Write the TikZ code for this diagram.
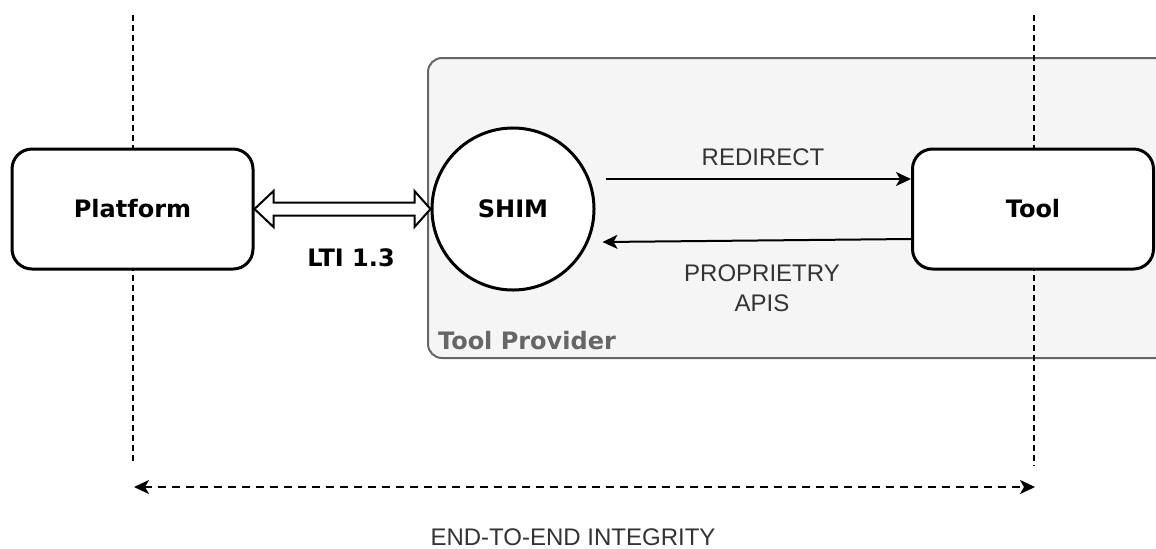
\documentclass[tikz,border=0pt]{standalone}
\usepackage{fontspec}
\setmainfont{Liberation Sans}
\newfontfamily\verd{DejaVu Sans}
\usetikzlibrary{arrows.meta}
\usetikzlibrary{positioning}
\usetikzlibrary{calc}
\definecolor{txtgray}{RGB}{51,51,51}
\definecolor{provgray}{RGB}{102,102,102}
\definecolor{provfill}{RGB}{245,245,245}

\begin{document}
\begin{tikzpicture}[x=0.5pt,y=-0.5pt,
  box/.style={draw,line width=1.5pt,rounded corners=10pt,fill=white,
    minimum width=120.5pt,minimum height=60pt,
    font=\verd\bfseries\fontsize{12}{14}\selectfont},
  shimnode/.style={draw,circle,line width=1.5pt,fill=white,minimum size=81pt,
    inner sep=0pt,font=\verd\bfseries\fontsize{12}{14}\selectfont},
  lbl/.style={text=txtgray,font=\fontsize{12}{15}\selectfont,align=center},
  guide/.style={line width=1.1pt,dash pattern=on 3pt off 2pt,black},
  flow/.style={line width=1pt,-{Stealth[length=7.5pt,width=7pt,inset=2pt]}}]

\useasboundingbox (0,0) rectangle (1156,548);
\clip (0,0) rectangle (1156,548);

% Tool Provider
\draw[provgray,fill=provfill,line width=1pt,rounded corners=7pt]
  (428,58) rectangle (1180,358);
\node[anchor=west,text=provgray,font=\verd\bfseries\fontsize{12}{14}\selectfont]
  (prov) at (431,341) {Tool Provider};

% Linhas verticais
\coordinate (ptop) at (133,15);
\coordinate (pbot) at (133,462);
\coordinate (ttop) at (1034,15);
\coordinate (tbot) at (1034,466);
\draw[guide] (ptop) -- (pbot);
\draw[guide] (ttop) -- (tbot);

% Nos
\node[box] (plat) at (132.5,209) {Platform};
\node[box] (tool) at (1033,209) {Tool};
\node[shimnode] (shim) at (513,209) {SHIM};

% LTI 1.3
\filldraw[fill=white,line width=1pt]
  (plat.east) -- ++(19,-18) -- ++(0,11.5)
  -- ($(shim.west)+(-16,-6.5)$) -- ++(0,-11.5) -- (shim.west)
  -- ++(-16,18) -- ++(0,-11.5)
  -- ($(plat.east)+(19,6.5)$) -- ++(0,11.5) -- cycle;
\node[font=\verd\bfseries\fontsize{12}{14}\selectfont] (lti) at (351,258) {LTI 1.3};

% Redirect / APIs
\draw[flow] ($(shim.east)+(10,-30)$) -- ($(tool.west)+(0,-30)$);
\node[lbl] (redir) at (763,157) {REDIRECT};
\draw[flow] ($(tool.west)+(0,30)$) -- ($(shim.east)+(7,33)$);
\node[lbl] (apis) at (762,288) {PROPRIETRY\\APIS};

% Integridade
\coordinate (ileft) at (134,487);
\coordinate (iright) at (1035,487);
\draw[line width=1.1pt,dash pattern=on 4pt off 3pt,
  {Stealth[length=7.5pt,width=7pt,inset=2pt]}-{Stealth[length=7.5pt,width=7pt,inset=2pt]}]
  (ileft) -- (iright);
\node[lbl] (integ) at (573,537) {END-TO-END INTEGRITY};

\end{tikzpicture}
\end{document}
